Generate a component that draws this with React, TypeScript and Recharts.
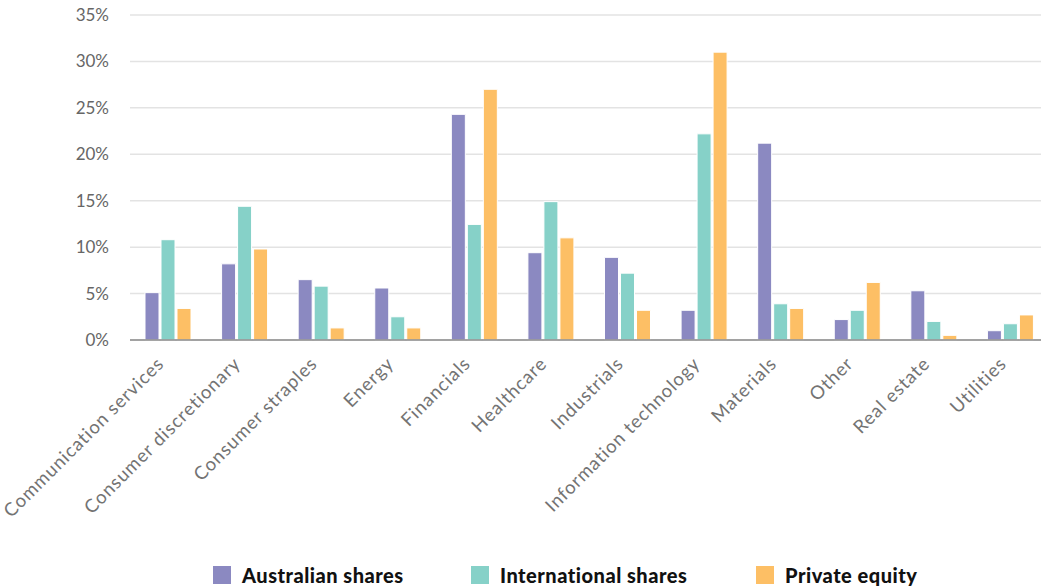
import { BarChart, Bar, XAxis, YAxis, CartesianGrid, Legend } from 'recharts';

const sectors = [
  'Communication services',
  'Consumer discretionary',
  'Consumer straples',
  'Energy',
  'Financials',
  'Healthcare',
  'Industrials',
  'Information technology',
  'Materials',
  'Other',
  'Real estate',
  'Utilities',
];
const australianShares = [5.1, 8.2, 6.5, 5.6, 24.3, 9.4, 8.9, 3.2, 21.2, 2.2, 5.3, 1.0];
const internationalShares = [10.8, 14.4, 5.8, 2.5, 12.45, 14.9, 7.2, 22.2, 3.9, 3.2, 2.0, 1.75];
const privateEquity = [3.4, 9.8, 1.3, 1.3, 27.0, 11.0, 3.2, 31.0, 3.4, 6.2, 0.5, 2.7];
const yTicks = [0, 5, 10, 15, 20, 25, 30, 35];

const series = [
  { key: 'aus', name: 'Australian shares', color: '#8B89C1', values: australianShares },
  { key: 'intl', name: 'International shares', color: '#86D1C8', values: internationalShares },
  { key: 'pe', name: 'Private equity', color: '#FDBF65', values: privateEquity },
];

const chartData = sectors.map((sector, i) => ({
  sector,
  aus: australianShares[i],
  intl: internationalShares[i],
  pe: privateEquity[i],
}));

const FONT = 'Lato, "Open Sans", sans-serif';

// rotated category labels, ending just left of the group centre
function SectorTick(props: any) {
  const { x, y, payload } = props;
  return (
    <g transform={`translate(${x - 6},${y + 14})`}>
      <text
        transform="rotate(-45)"
        textAnchor="end"
        fill="#737373"
        fontSize={18.5}
        letterSpacing={0.9}
        fontFamily={FONT}
        dy={4}
      >
        {payload.value}
      </text>
    </g>
  );
}

const legendLeft = [213, 471, 756];

function renderLegend() {
  return (
    <div style={{ position: 'relative', height: 48, width: 1041 }}>
      {series.map((s, i) => (
        <div
          key={s.key}
          style={{
            position: 'absolute',
            left: legendLeft[i],
            top: 26,
            display: 'flex',
            alignItems: 'center',
            height: 18,
          }}
        >
          <span style={{ width: 18, height: 18, background: s.color, display: 'inline-block' }} />
          <span
            style={{
              marginLeft: 11,
              fontFamily: FONT,
              fontWeight: 900,
              fontSize: 20,
              letterSpacing: 0.5,
              color: '#111',
              whiteSpace: 'nowrap',
            }}
          >
            {s.name}
          </span>
        </div>
      ))}
    </div>
  );
}

export default function App() {
  return (
    <div style={{ position: 'absolute', top: 0, left: 0, width: 1041, height: 588, background: '#fff', overflow: 'hidden' }}>
      <BarChart
        width={1041}
        height={588}
        data={chartData}
        margin={{ top: 15, right: -8, left: 0, bottom: 0 }}
        barSize={14}
        barGap={2}
      >
        <CartesianGrid vertical={false} stroke="#e3e3e3" strokeWidth={1.5} />
        <XAxis
          dataKey="sector"
          interval={0}
          height={200}
          tickLine={false}
          axisLine={{ stroke: '#8a8a8a', strokeWidth: 1.5 }}
          tick={<SectorTick />}
        />
        <YAxis
          width={130}
          domain={[0, 35]}
          ticks={yTicks}
          tickFormatter={(v) => `${v}%`}
          axisLine={false}
          tickLine={false}
          tickMargin={15}
          tick={{ fill: '#666666', fontSize: 17, fontFamily: FONT }}
        />
        <Legend verticalAlign="bottom" height={48} content={renderLegend} />
        {series.map((s) => (
          <Bar
            key={s.key}
            dataKey={s.key}
            name={s.name}
            fill={s.color}
            stroke="#ffffff"
            strokeWidth={1}
            isAnimationActive={false}
          />
        ))}
      </BarChart>
    </div>
  );
}
